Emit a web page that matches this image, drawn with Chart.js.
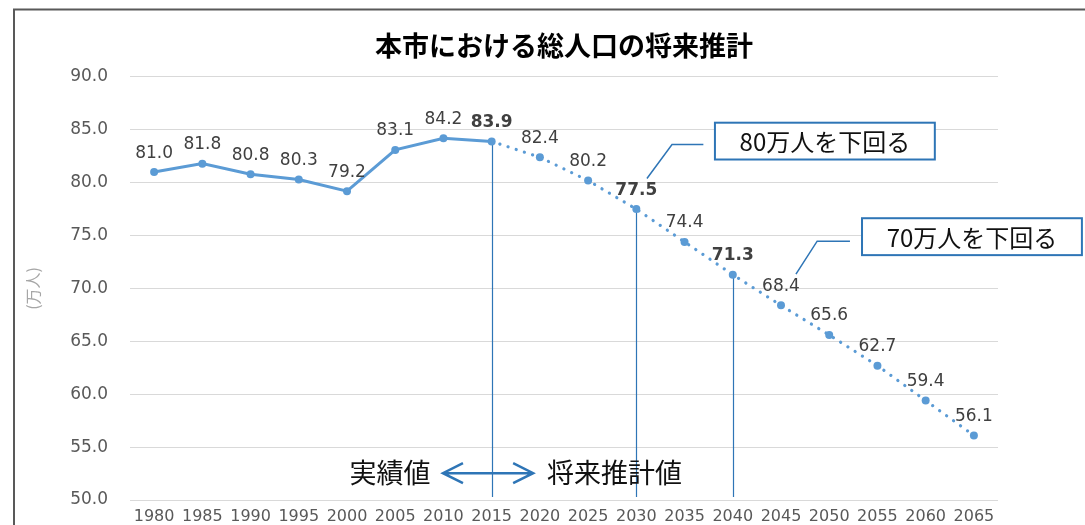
<!DOCTYPE html>
<html lang="ja">
<head>
<meta charset="utf-8">
<title>本市における総人口の将来推計</title>
<script src="https://cdn.jsdelivr.net/npm/chart.js@4.4.1/dist/chart.umd.min.js"></script>
<style>
  html, body { margin: 0; padding: 0; background: #fff; overflow: hidden; }
  canvas { display: block; }
</style>
</head>
<body>
<canvas id="popChart" width="1085" height="525"></canvas>
<script>
// --- data ---
const YEARS = ['1980', '1985', '1990', '1995', '2000', '2005', '2010', '2015', '2020',
               '2025', '2030', '2035', '2040', '2045', '2050', '2055', '2060', '2065'];
const ACTUAL = [81.0, 81.8, 80.8, 80.3, 79.2, 83.1, 84.2, 83.9];                     // 1980-2015
const PROJECTED = [82.4, 80.2, 77.5, 74.4, 71.3, 68.4, 65.6, 62.7, 59.4, 56.1];     // 2020-2065
const BOLD_YEARS = ['2015', '2030', '2040'];
const GUIDE_YEARS = ['2015', '2030', '2040'];
const CALLOUT_TEXT = ['80万人を下回る', '70万人を下回る'];
const PERIOD_TEXT = ['実績値', '将来推計値'];

const ALL = ACTUAL.concat(PROJECTED);
const lastActual = ACTUAL.length - 1;
const actualSeries = YEARS.map((y, i) => i <= lastActual ? ACTUAL[i] : null);
const projSeries = YEARS.map((y, i) => i >= lastActual ? ALL[i] : null);

const BLUE = '#5b9bd5';
const DARK_BLUE = '#2e75b6';
const NUM_FONT = '"DejaVu Sans", "Liberation Sans", sans-serif';
const JP_FONT = '"Noto Sans CJK JP", sans-serif';

// --- drawing helpers (annotations placed in data coordinates) ---
const decorations = {
    id: 'decorations',
    beforeDraw(chart) {
        const ctx = chart.ctx;
        ctx.save();
        ctx.fillStyle = '#fff';
        ctx.fillRect(0, 0, chart.width, chart.height);
        // outer frame (only left & top visible in the crop)
        ctx.strokeStyle = '#595959';
        ctx.lineWidth = 2;
        ctx.beginPath();
        ctx.moveTo(14, chart.height);
        ctx.lineTo(14, 9.5);
        ctx.lineTo(chart.width, 9.5);
        ctx.stroke();
        ctx.restore();
    },
    beforeDatasetsDraw(chart) {
        const { ctx, scales: { x, y }, chartArea } = chart;
        ctx.save();
        ctx.strokeStyle = DARK_BLUE;
        ctx.lineWidth = 1.2;
        GUIDE_YEARS.forEach(yr => {
            const i = YEARS.indexOf(yr);
            const px = Math.round(x.getPixelForValue(i)) + 0.5;
            ctx.beginPath();
            ctx.moveTo(px, y.getPixelForValue(ALL[i]));
            ctx.lineTo(px, chartArea.bottom - 3);
            ctx.stroke();
        });
        ctx.restore();
    },
    afterDatasetsDraw(chart) {
        const { ctx, scales: { x, y } } = chart;
        ctx.save();

        // value labels
        ctx.textAlign = 'center';
        ctx.textBaseline = 'middle';
        ctx.fillStyle = '#404040';
        chart.data.datasets.forEach((ds, di) => {
            const meta = chart.getDatasetMeta(di);
            ds.data.forEach((v, i) => {
                if (v === null) return;
                if (di === 1 && i === lastActual) return;
                const pt = meta.data[i];
                const bold = BOLD_YEARS.includes(YEARS[i]);
                ctx.font = (bold ? 'bold ' : '') + '17px ' + NUM_FONT;
                ctx.fillText(v.toFixed(1), pt.x, pt.y - 19);
            });
        });

        // callouts
        const geo = [
            { start: [10.22, 80.4], elbow: [10.74, 83.6], endX: 11.39, box: [11.63, 85.67, 16.19, 82.19] },
            { start: [13.31, 71.36], elbow: [13.75, 74.47], endX: 14.43, box: [14.68, 76.64, 19.24, 73.15] }
        ];
        geo.forEach((g, k) => {
            const sx = x.getPixelForValue(g.start[0]), sy = y.getPixelForValue(g.start[1]);
            const ex = x.getPixelForValue(g.elbow[0]), ey = y.getPixelForValue(g.elbow[1]);
            const hx = x.getPixelForValue(g.endX);
            ctx.strokeStyle = DARK_BLUE;
            ctx.lineWidth = 1.5;
            ctx.beginPath();
            ctx.moveTo(sx, sy);
            ctx.lineTo(ex, ey);
            ctx.lineTo(hx, ey);
            ctx.stroke();
            const bx1 = x.getPixelForValue(g.box[0]), by1 = y.getPixelForValue(g.box[1]);
            const bx2 = x.getPixelForValue(g.box[2]), by2 = y.getPixelForValue(g.box[3]);
            ctx.fillStyle = '#fff';
            ctx.fillRect(bx1, by1, bx2 - bx1, by2 - by1);
            ctx.lineWidth = 2;
            ctx.strokeRect(bx1, by1, bx2 - bx1, by2 - by1);
            ctx.fillStyle = '#111';
            ctx.font = '24px ' + JP_FONT;
            ctx.textAlign = 'center';
            ctx.fillText(CALLOUT_TEXT[k], (bx1 + bx2) / 2, (by1 + by2) / 2 + 1);
        });

        // actual <-> projection arrow
        const ay = y.getPixelForValue(52.54);
        const ax1 = x.getPixelForValue(5.99), ax2 = x.getPixelForValue(7.86);
        ctx.strokeStyle = DARK_BLUE;
        ctx.lineWidth = 2.5;
        ctx.beginPath();
        ctx.moveTo(ax1, ay); ctx.lineTo(ax2, ay);
        ctx.moveTo(ax1 + 20, ay - 10); ctx.lineTo(ax1, ay); ctx.lineTo(ax1 + 20, ay + 10);
        ctx.moveTo(ax2 - 20, ay - 10); ctx.lineTo(ax2, ay); ctx.lineTo(ax2 - 20, ay + 10);
        ctx.stroke();
        ctx.fillStyle = '#111';
        ctx.font = '27px ' + JP_FONT;
        ctx.textAlign = 'right';
        ctx.fillText(PERIOD_TEXT[0], x.getPixelForValue(5.73), ay);
        ctx.textAlign = 'left';
        ctx.fillText(PERIOD_TEXT[1], x.getPixelForValue(8.15), ay);

        ctx.restore();
    }
};

new Chart(document.getElementById('popChart'), {
    type: 'line',
    data: {
        labels: YEARS,
        datasets: [{
            label: '実績値',
            data: actualSeries,
            borderColor: BLUE,
            backgroundColor: BLUE,
            borderWidth: 3,
            pointRadius: 4,
            pointBorderWidth: 0,
            tension: 0,
            spanGaps: false
        }, {
            label: '将来推計値',
            data: projSeries,
            borderColor: BLUE,
            backgroundColor: BLUE,
            borderWidth: 3.2,
            borderDash: [0.1, 8.5],
            borderCapStyle: 'round',
            pointRadius: (c) => c.dataIndex === lastActual ? 0 : 4,
            pointBorderWidth: 0,
            tension: 0
        }]
    },
    options: {
        responsive: false,
        animation: false,
        devicePixelRatio: 1,
        layout: { padding: { left: 19, right: 87, top: 0, bottom: 0 } },
        plugins: {
            legend: { display: false },
            tooltip: { enabled: false },
            title: {
                display: true,
                fullSize: false,
                text: '本市における総人口の将来推計',
                color: '#000',
                font: { family: JP_FONT, size: 27, weight: 'bold' },
                padding: { top: 30, bottom: 14.5 }
            }
        },
        scales: {
            x: {
                offset: true,
                grid: { display: false, drawTicks: false, offset: true },
                border: { display: false },
                ticks: {
                    color: '#595959',
                    font: { family: NUM_FONT, size: 16 },
                    padding: 7,
                    maxRotation: 0,
                    autoSkip: false
                },
                afterFit: (s) => { s.height = 25; }
            },
            y: {
                min: 50,
                max: 90,
                // invisible tick marks keep the labels clear of the plot
                // without inflating the scale's vertical padding
                grid: { color: '#d9d9d9', lineWidth: 1, drawTicks: true, tickLength: 19, tickColor: 'rgba(0,0,0,0)' },
                border: { display: false },
                ticks: {
                    stepSize: 5,
                    color: '#595959',
                    font: { family: NUM_FONT, size: 17 },
                    padding: 3,
                    callback: (v) => v.toFixed(1)
                },
                title: {
                    display: true,
                    text: '(万人)',
                    color: '#a6a6a6',
                    font: { family: JP_FONT, size: 16 }
                },
                afterFit: (s) => { s.width = 111; }
            }
        }
    },
    plugins: [decorations]
});
</script>
</body>
</html>
